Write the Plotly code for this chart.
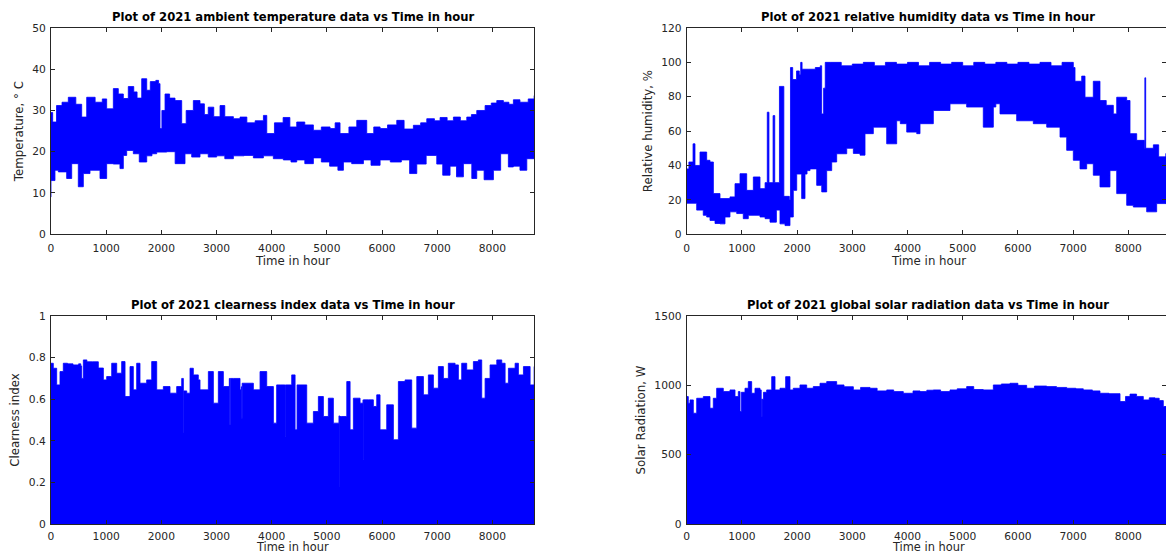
import plotly.graph_objects as go

# ---------------- data (envelopes) ----------------
temp_up_h = [0, 30, 100, 200, 314, 450, 556, 647, 800, 930, 1009, 1130, 1220, 1311, 1401, 1500, 1560, 1644, 1735, 1800, 1900, 1950, 1976, 2010, 2067, 2150, 2248, 2369, 2450, 2580, 2701, 2780, 2850, 2950, 3064, 3150, 3306, 3426, 3550, 3700, 3850, 3911, 4050, 4207, 4330, 4454, 4600, 4756, 4900, 5058, 5150, 5239, 5400, 5542, 5723, 5850, 5965, 6100, 6267, 6400, 6568, 6700, 6811, 6950, 7052, 7180, 7294, 7420, 7536, 7620, 7717, 7868, 7980, 8080, 8200, 8300, 8381, 8500, 8650, 8760]
temp_up = [29.5, 27.2, 31.2, 32.0, 33.2, 31.5, 28.4, 33.2, 32.0, 32.8, 30.4, 35.3, 34.0, 32.9, 35.8, 34.5, 33.0, 37.7, 34.9, 37.0, 37.3, 36.5, 25.6, 30.0, 34.0, 33.0, 32.4, 26.8, 30.0, 32.4, 31.6, 29.0, 30.8, 28.5, 31.2, 28.5, 28.0, 28.4, 27.0, 27.5, 28.8, 24.4, 27.0, 28.3, 26.0, 27.2, 26.5, 25.2, 26.0, 25.6, 27.0, 24.4, 26.0, 27.6, 24.4, 26.0, 25.6, 26.5, 27.6, 25.5, 26.4, 27.0, 28.0, 27.5, 28.3, 27.5, 28.4, 27.5, 28.4, 29.0, 30.0, 31.2, 31.8, 32.4, 32.0, 31.5, 32.6, 32.0, 32.8, 33.6]
temp_lo_h = [0, 72, 133, 284, 375, 495, 586, 707, 888, 1009, 1130, 1250, 1311, 1372, 1492, 1600, 1735, 1830, 1916, 2097, 2250, 2429, 2550, 2701, 2850, 3003, 3150, 3306, 3500, 3668, 3850, 4030, 4211, 4350, 4454, 4600, 4756, 4900, 5050, 5200, 5300, 5450, 5663, 5800, 5965, 6150, 6350, 6500, 6630, 6800, 6992, 7100, 7233, 7350, 7475, 7627, 7717, 7850, 8019, 8150, 8290, 8381, 8500, 8624, 8760]
temp_lo = [9.0, 13.0, 15.5, 15.1, 13.5, 17.1, 11.5, 14.7, 15.5, 13.5, 17.1, 17.0, 15.9, 19.1, 20.3, 19.5, 17.5, 19.0, 19.5, 19.9, 20.0, 17.1, 19.5, 18.7, 19.5, 18.7, 19.0, 18.3, 19.0, 19.1, 18.5, 19.0, 18.3, 18.0, 17.5, 18.0, 17.1, 18.5, 17.5, 16.5, 15.5, 17.5, 17.1, 18.0, 16.7, 18.0, 17.5, 18.0, 14.7, 17.0, 19.1, 17.0, 14.3, 16.5, 13.9, 17.1, 13.5, 15.5, 13.2, 15.5, 19.5, 16.3, 16.5, 15.5, 18.3]

rh_up_h = [0, 40, 115, 125, 150, 241, 362, 422, 483, 603, 784, 875, 966, 1087, 1207, 1328, 1420, 1460, 1470, 1490, 1565, 1575, 1595, 1680, 1745, 1760, 1860, 1880, 1920, 1990, 2040, 2065, 2090, 2200, 2330, 2420, 2445, 2480, 2510, 2600, 2800, 3000, 3200, 3400, 3600, 3800, 4000, 4200, 4400, 4600, 4800, 5000, 5200, 5400, 5600, 5800, 6000, 6200, 6400, 6600, 6800, 6950, 7004, 7035, 7156, 7216, 7366, 7487, 7600, 7729, 7790, 7971, 8031, 8152, 8290, 8300, 8315, 8454, 8550, 8683]
rh_up = [38, 42, 52.6, 52.6, 40, 47.8, 43, 42, 23.6, 20.7, 21.7, 29.4, 35.2, 25.5, 33.3, 26.5, 30, 71, 71, 30, 69, 69, 30, 86, 86, 22, 20, 97, 90, 95, 93, 100, 96, 96, 97, 98, 70, 85, 100, 100, 98, 99, 100, 98, 100, 99, 100, 98, 100, 99, 100, 98, 100, 99, 100, 99, 100, 99, 100, 98, 100, 100, 97, 89, 92, 79.7, 89, 77.8, 75, 70, 79.7, 77.8, 58.5, 54.6, 50, 91, 50, 52, 45, 47]
rh_lo_h = [0, 60, 181, 300, 362, 422, 513, 603, 694, 784, 906, 1025, 1116, 1220, 1328, 1420, 1509, 1625, 1690, 1781, 1871, 1931, 1993, 2083, 2143, 2180, 2234, 2355, 2446, 2536, 2627, 2717, 2899, 3019, 3140, 3230, 3381, 3623, 3804, 3870, 3986, 4167, 4227, 4468, 4770, 5072, 5373, 5555, 5600, 5676, 5978, 6279, 6522, 6763, 6884, 7004, 7125, 7246, 7366, 7487, 7668, 7790, 7971, 8091, 8333, 8514, 8683]
rh_lo = [19.7, 18, 18, 14, 11, 10, 8, 6.2, 6, 10, 13, 12, 9, 11, 11, 10, 9, 7, 14, 6, 5, 10, 25.5, 35, 20.7, 35, 37, 38, 28.4, 24.6, 37, 42, 46.8, 50, 47, 46, 58.5, 62.3, 52.6, 66, 64.3, 59.4, 58.5, 64.3, 72, 75.9, 74, 62.3, 74, 75.9, 70, 66, 64.3, 62.3, 56.5, 48.8, 43, 38, 41, 34.3, 27.5, 37, 23.6, 16.8, 15.8, 13, 17.8]

ci_h = [0, 42, 103, 163, 223, 300, 400, 500, 540, 556, 586, 650, 750, 858, 949, 1009, 1100, 1191, 1281, 1342, 1432, 1492, 1553, 1613, 1734, 1825, 1916, 2036, 2157, 2278, 2369, 2390, 2399, 2408, 2460, 2520, 2580, 2670, 2701, 2852, 2943, 3033, 3124, 3232, 3240, 3250, 3305, 3426, 3450, 3457, 3465, 3517, 3668, 3789, 3910, 4031, 4090, 4152, 4234, 4242, 4250, 4363, 4424, 4460, 4514, 4635, 4756, 4846, 4937, 5027, 5118, 5220, 5227, 5234, 5270, 5361, 5421, 5481, 5602, 5655, 5662, 5669, 5753, 5843, 5904, 5964, 6085, 6206, 6296, 6418, 6538, 6630, 6750, 6840, 6931, 7021, 7112, 7202, 7324, 7384, 7444, 7535, 7656, 7746, 7807, 7868, 7958, 8080, 8170, 8231, 8291, 8412, 8472, 8563, 8684, 8760]
ci = [0.773, 0.749, 0.669, 0.733, 0.773, 0.77, 0.765, 0.77, 0.76, 0.70, 0.789, 0.78, 0.78, 0.75, 0.693, 0.709, 0.773, 0.725, 0.781, 0.613, 0.757, 0.645, 0.773, 0.677, 0.693, 0.781, 0.645, 0.661, 0.629, 0.661, 0.70, 0.70, 0.437, 0.64, 0.629, 0.749, 0.717, 0.693, 0.645, 0.733, 0.581, 0.733, 0.661, 0.70, 0.477, 0.70, 0.70, 0.645, 0.66, 0.509, 0.677, 0.677, 0.645, 0.733, 0.661, 0.485, 0.669, 0.669, 0.669, 0.421, 0.669, 0.717, 0.453, 0.669, 0.669, 0.485, 0.541, 0.613, 0.517, 0.605, 0.485, 0.52, 0.181, 0.517, 0.517, 0.685, 0.453, 0.605, 0.581, 0.597, 0.309, 0.597, 0.597, 0.565, 0.621, 0.453, 0.573, 0.405, 0.685, 0.693, 0.461, 0.709, 0.621, 0.717, 0.653, 0.757, 0.70, 0.773, 0.765, 0.693, 0.773, 0.741, 0.781, 0.789, 0.605, 0.70, 0.765, 0.789, 0.773, 0.677, 0.749, 0.773, 0.717, 0.757, 0.669, 0.757]

sr_h = [0, 29, 60, 120, 181, 301, 422, 482, 543, 663, 784, 875, 935, 966, 990, 1056, 1116, 1177, 1237, 1328, 1350, 1358, 1366, 1390, 1449, 1540, 1600, 1690, 1793, 1871, 1931, 2052, 2174, 2293, 2415, 2536, 2717, 2850, 3019, 3150, 3321, 3450, 3623, 3750, 3924, 4100, 4227, 4350, 4468, 4600, 4770, 4900, 5072, 5200, 5373, 5555, 5700, 5857, 6000, 6159, 6300, 6522, 6700, 6884, 7050, 7185, 7350, 7487, 7650, 7850, 7950, 8031, 8150, 8272, 8380, 8484, 8560, 8634, 8683]
sr = [919, 871, 895, 799, 907, 919, 835, 907, 979, 955, 967, 919, 955, 811, 950, 979, 1027, 943, 979, 967, 900, 775, 900, 950, 967, 1063, 967, 979, 1063, 967, 979, 1003, 979, 991, 1015, 1027, 1003, 990, 967, 985, 979, 960, 967, 955, 943, 960, 955, 965, 967, 955, 967, 975, 991, 970, 967, 1003, 1010, 1015, 1000, 979, 995, 991, 985, 979, 975, 967, 960, 943, 940, 883, 920, 937, 920, 895, 910, 907, 890, 847, 850]

titles = ["Plot of 2021 ambient temperature data vs Time in hour",
          "Plot of 2021 relative humidity data vs Time in hour",
          "Plot of 2021 clearness index data vs Time in hour",
          "Plot of 2021 global solar radiation data vs Time in hour"]
ylabels = ["Temperature, ° C", "Relative humidity, %", "Clearness index", "Solar Radiation, W"]
xlabel = "Time in hour"
x_ticks = [0, 1000, 2000, 3000, 4000, 5000, 6000, 7000, 8000]

BLUE = "#0000FF"
AX = "#262626"
FONT = "DejaVu Sans"

fig = go.Figure()

def band(xu, yu, xl, yl, xa, ya):
    fig.add_trace(go.Scatter(x=list(xu) + list(xl)[::-1], y=list(yu) + list(yl)[::-1],
                             mode="lines", fill="toself", fillcolor=BLUE, line_shape="hv",
                             line=dict(color=BLUE, width=0.8), xaxis=xa, yaxis=ya,
                             showlegend=False, hoverinfo="skip"))

def area(xh, yv, xa, ya):
    fig.add_trace(go.Scatter(x=[xh[0]] + list(xh) + [xh[-1]], y=[0] + list(yv) + [0],
                             mode="lines", fill="toself", fillcolor=BLUE, line_shape="hv",
                             line=dict(color=BLUE, width=0.8), xaxis=xa, yaxis=ya,
                             showlegend=False, hoverinfo="skip"))

band(temp_up_h, temp_up, temp_lo_h, temp_lo, "x", "y")
band(rh_up_h, rh_up, rh_lo_h, rh_lo, "x2", "y2")
area(ci_h, ci, "x3", "y3")
area(sr_h, sr, "x4", "y4")

W, H = 1166, 556
ml, mr, mt, mb = 51, 0, 27.5, 31.7
pw, ph = W - ml - mr, H - mt - mb

def dx(a, b):
    return [(a - ml) / pw, (b - ml) / pw]

def dy(top, bot):
    return [(H - mb - bot) / ph, (H - mb - top) / ph]

def xaxis_style(standoff):
    return dict(tickvals=x_ticks, ticks="inside", ticklen=4, tickcolor=AX, showline=True,
                linecolor=AX, linewidth=1, mirror="ticks", showgrid=False, zeroline=False,
                automargin=False, ticklabelstandoff=standoff,
                tickfont=dict(family=FONT, size=10.7, color=AX))

common_y = dict(ticks="inside", ticklen=4, tickcolor=AX, showline=True, linecolor=AX,
                linewidth=1, mirror="ticks", showgrid=False, zeroline=False,
                automargin=False, ticklabelstandoff=2,
                tickfont=dict(family=FONT, size=10.7, color=AX))
ytitle = lambda t: dict(text=t, font=dict(family=FONT, size=11.8, color=AX), standoff=6)

right_end = 8683
fig.update_layout(
    width=W, height=H, margin=dict(l=ml, r=mr, t=mt, b=mb, autoexpand=False),
    paper_bgcolor="white", plot_bgcolor="white",
    xaxis=dict(domain=dx(51, 534.3), range=[0, 8760], anchor="y", **xaxis_style(4)),
    xaxis2=dict(domain=dx(686.7, 1166), range=[0, right_end], anchor="y2", **xaxis_style(4)),
    xaxis3=dict(domain=dx(51, 534.3), range=[0, 8760], anchor="y3", **xaxis_style(2)),
    xaxis4=dict(domain=dx(686.7, 1166), range=[0, right_end], anchor="y4", **xaxis_style(2)),
    yaxis=dict(domain=dy(27.5, 234), range=[0, 50], tickvals=[0, 10, 20, 30, 40, 50], anchor="x",
               title=ytitle(ylabels[0]), **common_y),
    yaxis2=dict(domain=dy(27.5, 234), range=[0, 120], tickvals=[0, 20, 40, 60, 80, 100, 120], anchor="x2",
                title=ytitle(ylabels[1]), **common_y),
    yaxis3=dict(domain=dy(316, 524.3), range=[0, 1], tickvals=[0, 0.2, 0.4, 0.6, 0.8, 1],
                ticktext=["0", "0.2", "0.4", "0.6", "0.8", "1"], anchor="x3",
                title=ytitle(ylabels[2]), **common_y),
    yaxis4=dict(domain=dy(316, 524.3), range=[0, 1500], tickvals=[0, 500, 1000, 1500], anchor="x4",
                title=ytitle(ylabels[3]), **common_y),
)

for i, (xr, yr) in enumerate([("x", "y"), ("x2", "y2"), ("x3", "y3"), ("x4", "y4")]):
    ytop = [50, 120, 1, 1500][i]
    fig.add_annotation(text="<b>" + titles[i] + "</b>", x=4380, y=ytop, xref=xr, yref=yr,
                       xanchor="center", yanchor="bottom", yshift=2, showarrow=False,
                       font=dict(family=FONT, size=11.6, color="black"))
    if i < 2:
        fig.add_annotation(text=xlabel, x=4380, y=0, xref=xr, yref=yr + " domain",
                           xanchor="center", yanchor="middle", yshift=-27,
                           showarrow=False, font=dict(family=FONT, size=11.8, color=AX))
    else:
        fig.add_annotation(text=xlabel, x=4380, y=0, xref=xr, yref=yr + " domain",
                           xanchor="center", yanchor="bottom", yshift=-31.5,
                           showarrow=False, font=dict(family=FONT, size=11.4, color=AX))

fig.write_html("out.html", config={"displayModeBar": False},
               post_script="document.body.style.margin='0';document.body.style.overflow='hidden';")
